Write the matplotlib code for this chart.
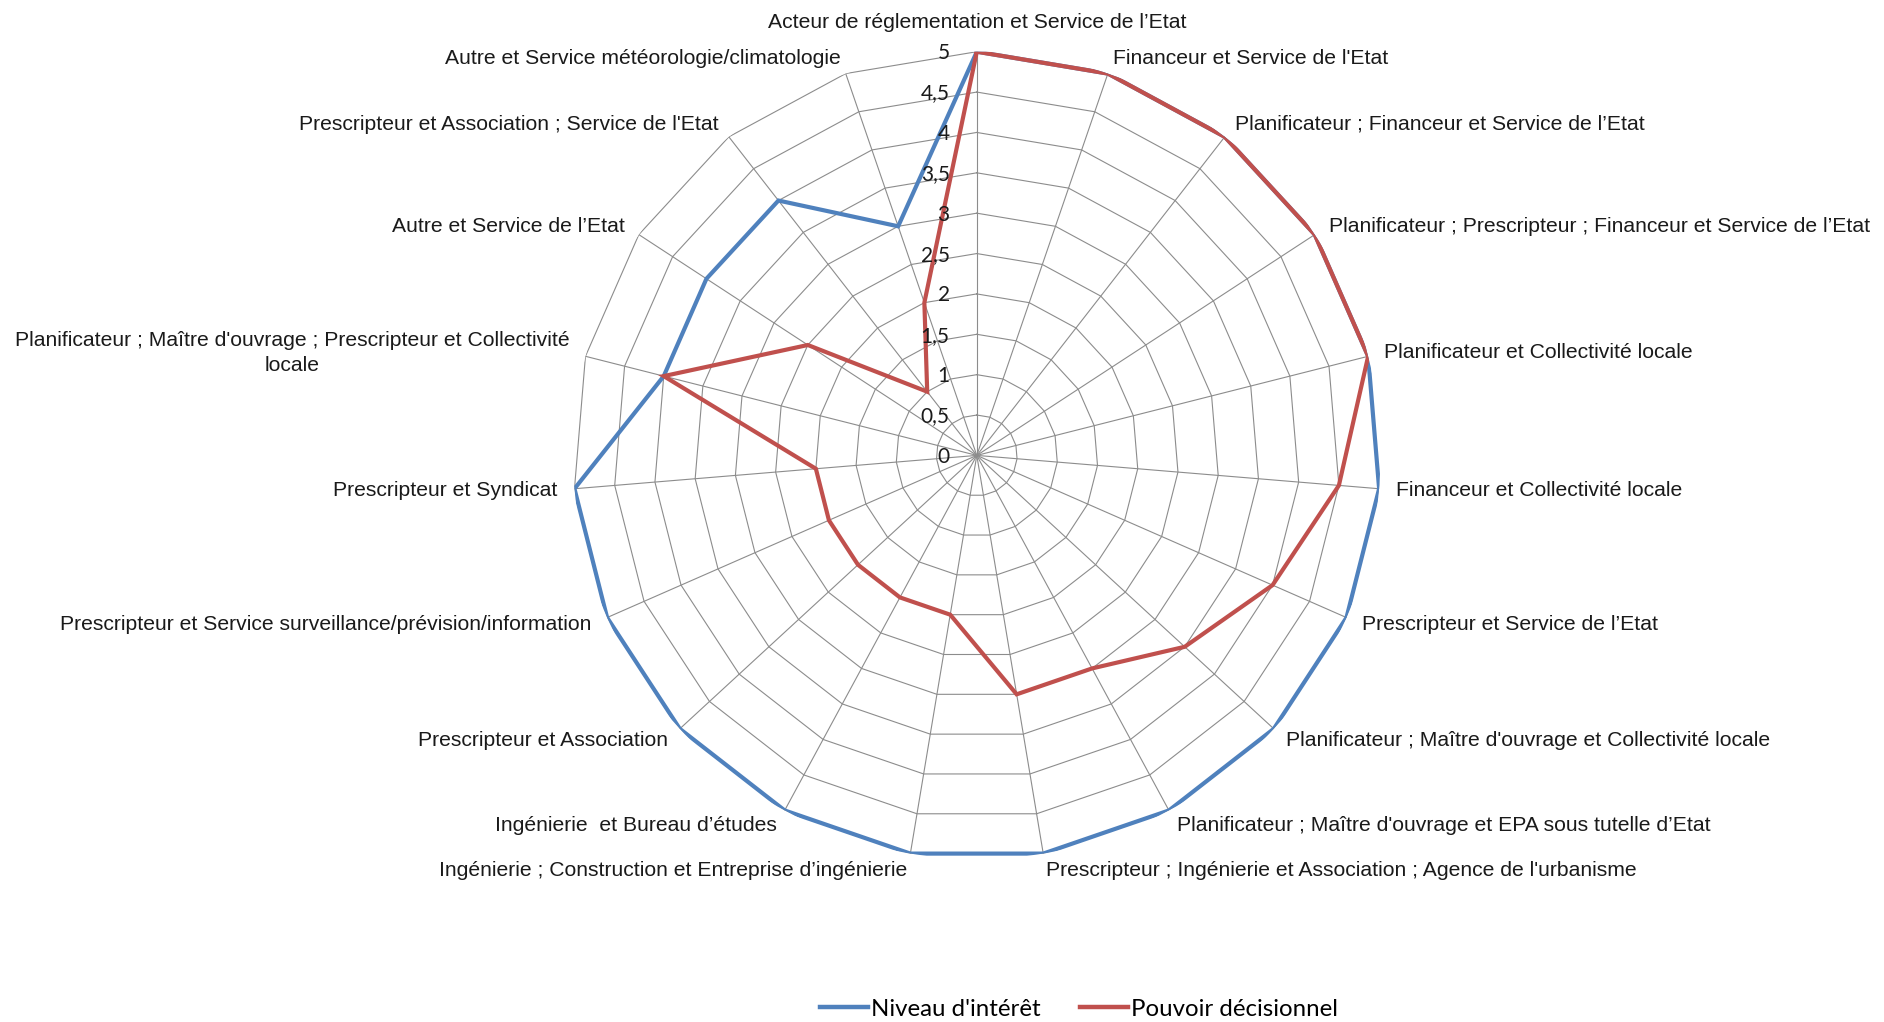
import numpy as np
import matplotlib
matplotlib.use('Agg')
import matplotlib.pyplot as plt
from matplotlib.lines import Line2D

categories = [
    "Acteur de réglementation et Service de l’Etat",
    "Financeur et Service de l'Etat",
    "Planificateur ; Financeur et Service de l’Etat",
    "Planificateur ; Prescripteur ; Financeur et Service de l’Etat",
    "Planificateur et Collectivité locale",
    "Financeur et Collectivité locale",
    "Prescripteur et Service de l’Etat",
    "Planificateur ; Maître d'ouvrage et Collectivité locale",
    "Planificateur ; Maître d'ouvrage et EPA sous tutelle d’Etat",
    "Prescripteur ; Ingénierie et Association ; Agence de l'urbanisme",
    "Ingénierie ; Construction et Entreprise d’ingénierie",
    "Ingénierie  et Bureau d’études",
    "Prescripteur et Association",
    "Prescripteur et Service surveillance/prévision/information",
    "Prescripteur et Syndicat",
    "Planificateur ; Maître d'ouvrage ; Prescripteur et Collectivité\nlocale",
    "Autre et Service de l’Etat",
    "Prescripteur et Association ; Service de l'Etat",
    "Autre et Service météorologie/climatologie",
]
niveau_interet = [5, 5, 5, 5, 5, 5, 5, 5, 5, 5, 5, 5, 5, 5, 5, 4, 4, 4, 3]
pouvoir_decisionnel = [5, 5, 5, 5, 5, 4.5, 4, 3.5, 3, 3, 2, 2, 2, 2, 2, 4, 2.5, 1, 2]
tick_values = [0, 0.5, 1, 1.5, 2, 2.5, 3, 3.5, 4, 4.5, 5]
tick_labels = ["0", "0,5", "1", "1,5", "2", "2,5", "3", "3,5", "4", "4,5", "5"]
series_names = ["Niveau d'intérêt", "Pouvoir décisionnel"]

BLUE = "#4F81BD"
RED = "#C0504D"
GRID = "#8C8C8C"
LABEL_FONT = ["Liberation Sans Narrow", "Liberation Sans", "DejaVu Sans"]
TICK_FONT = ["Lato", "DejaVu Sans"]

W, H = 1884, 1022
fig = plt.figure(figsize=(W / 100, H / 100), dpi=100)
cx, cy, R = 976.8, 455.4, 403.7
ax = fig.add_axes([(cx - R) / W, (H - cy - R) / H, 2 * R / W, 2 * R / H],
                  projection='polar')
ax.set_theta_zero_location('N')
ax.set_theta_direction(-1)
ax.set_ylim(0, 5)
ax.set_axis_off()

N = len(categories)
theta = np.arange(N) * 2 * np.pi / N
theta_c = np.append(theta, theta[0])

# grid polygons
for v in tick_values[1:]:
    ax.plot(theta_c, [v] * (N + 1), color=GRID, lw=0.8, zorder=1)
# spokes
for t in theta:
    ax.plot([t, t], [0, 5], color=GRID, lw=0.8, zorder=1)

# series
ax.plot(theta_c, niveau_interet + niveau_interet[:1], color=BLUE, lw=3.0,
        zorder=3, solid_joinstyle='miter')
ax.plot(theta_c, pouvoir_decisionnel + pouvoir_decisionnel[:1], color=RED,
        lw=3.0, zorder=4, solid_joinstyle='miter')

# radial tick labels
for v, lbl in zip(tick_values, tick_labels):
    ax.annotate(lbl, xy=(0, v), xytext=(-19.5, -1), textcoords='offset points',
                ha='right', va='center', fontsize=15, family=TICK_FONT,
                color='#1a1a1a', zorder=5)

# category labels
d = 12.0
for t, lbl in zip(theta, categories):
    s, c = np.sin(t), np.cos(t)
    if abs(s) < 1e-6:
        ha, va, off = 'center', 'bottom', (0, 14)
    else:
        ha = 'left' if s > 0 else 'right'
        va = 'center'
        off = (d * s, d * c - 0.5)
    ax.annotate(lbl, xy=(t, 5), xytext=off, textcoords='offset points',
                ha=ha, va=va, fontsize=15.2, family=LABEL_FONT,
                color='#1a1a1a', multialignment='center', linespacing=1.45,
                annotation_clip=False)

handles = [Line2D([], [], color=BLUE, lw=3.2),
           Line2D([], [], color=RED, lw=3.2)]
fig.legend(handles, series_names, loc='center',
           bbox_to_anchor=(1079 / W, 1 - 1009 / H), ncol=2, frameon=False,
           prop={'family': TICK_FONT, 'size': 17.3}, handlelength=2.0,
           handletextpad=0.15, columnspacing=1.6)

fig.savefig("out.png", dpi=100)
